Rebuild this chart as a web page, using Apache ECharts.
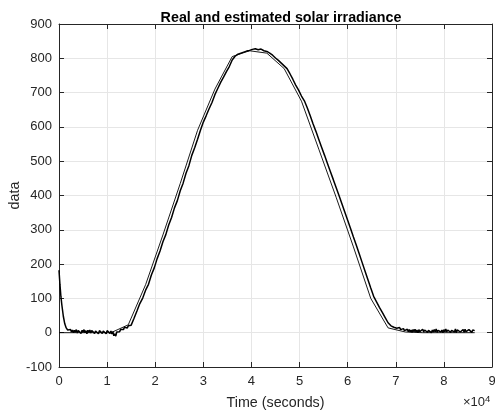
<!DOCTYPE html>
<html>
<head>
<meta charset="utf-8">
<script src="https://cdn.jsdelivr.net/npm/echarts@6/dist/echarts.min.js"></script>
<style>
html,body{margin:0;padding:0;background:#fff;}
#chart{width:495px;height:416px;}
</style>
</head>
<body>
<div id="chart"></div>
<script>
// Estimated irradiance (hourly samples, seconds)
var estTime = [0,3600,7200,10800,14400,18000,21600,25200,28800,32400,36000,39600,43200,46800,50400,54000,57600,61200,64800,68400,72000,75600,79200,82800,86400];
var estValue = [0,0,0,0,23,140,285,435,590,710,805,822,815,770,675,535,395,250,100,14,2,0,0,0,0];

// Real (measured) irradiance, seconds
var realTime = [
0,200,400,600,900,1200,1500,1800,
2400,2600,2800,3000,3200,3400,3600,3800,4000,4200,
4400,4600,4800,5000,5200,5400,5600,5800,6000,6200,
6400,6600,6800,7000,7200,7400,7600,7800,8000,8200,
8400,8600,8800,9000,9200,9400,9600,9800,10000,10200,
10400,10600,10800,11000,11200,11400,11600,11800,12000,12200,
12400,12600,12800,13000,13200,13400,13600,13800,14000,14200,
14400,
15000,15600,16200,16800,17400,18000,18600,19200,19800,20400,
21000,21600,22200,22800,23400,24000,24600,25200,25800,26400,
27000,27600,28200,28800,29400,30000,30600,31200,31800,32400,
33000,33600,34200,34800,35400,36000,36600,37200,37800,38400,
39000,39600,40200,40800,41400,42000,42600,43200,43800,44400,
45000,45600,46200,46800,47400,48000,48600,49200,49800,50400,
51000,51600,52200,52800,53400,54000,54600,55200,55800,56400,
57000,57600,58200,58800,59400,60000,60600,61200,61800,62400,
63000,63600,64200,64800,65400,66000,66600,67200,67800,68400,
69000,69600,
70000,70200,70400,70600,70800,71000,71200,71400,71600,71800,
72000,72200,72400,72600,72800,73000,73200,73400,73600,73800,
74000,74200,74400,74600,74800,75000,75200,75400,75600,75800,
76000,76200,76400,76600,76800,77000,77200,77400,77600,77800,
78000,78200,78400,78600,78800,79000,79200,79400,79600,79800,
80000,80200,80400,80600,80800,81000,81200,81400,81600,81800,
82000,82200,82400,82600,82800,83000,83200,83400,83600,83800,
84000,84200,84400,84600,84800,85000,85200,85400,85600,85800,
86000,86200,86400
];
var realValue = [
182,140,105,80,48,26,14,8,
9,2,8,0,7,1,9,-1,6,2,
8,-2,7,1,9,0,6,-3,7,1,
8,-1,6,2,9,-2,5,0,7,-3,
6,1,8,-2,5,0,7,-3,6,1,
8,-2,5,-4,3,-9,-3,-10,2,-2,
6,3,9,6,12,9,16,12,19,14,
20,
22,42,63,85,101,124,141,168,189,216,
238,265,286,314,336,364,385,414,436,465,
487,517,539,564,590,614,633,653,671,694,
712,730,745,761,776,795,806,812,815,818,
821,823,826,828,825,827,822,820,815,809,
801,794,786,778,770,755,739,722,707,690,
676,656,633,609,587,563,540,517,493,470,
447,423,400,376,352,328,304,279,255,230,
205,180,155,130,106,90,74,59,44,29,
20,16,
19,13,17,10,15,9,14,7,12,6,
11,4,10,3,9,2,8,1,9,3,
10,2,8,0,9,3,7,1,10,2,
8,3,11,1,7,4,10,0,8,2,
9,3,11,1,7,4,10,2,8,0,
9,3,11,2,8,4,10,1,7,3,
9,2,11,0,8,4,10,2,7,3,
9,1,10,3,8,2,9,4,10,1,
8,3,6
];

var xTicks = [0,1,2,3,4,5,6,7,8,9];

function pairs(t, v) {
  var out = [];
  for (var i = 0; i < t.length; i++) out.push([t[i], v[i]]);
  return out;
}

var FONT = 'Liberation Sans, Arial, Helvetica, sans-serif';
var AX = '#262626';
var GRID = '#e6e6e6';

var chart = echarts.init(document.getElementById('chart'), null, {renderer: 'canvas'});
chart.setOption({
  animation: false,
  backgroundColor: '#fff',
  textStyle: {fontFamily: FONT},
  title: {
    text: 'Real and estimated solar irradiance',
    left: 276, top: 6, textAlign: 'center',
    textStyle: {fontFamily: FONT, fontSize: 14.3, fontWeight: 'bold', color: '#000'}
  },
  grid: {left: 59, right: 3, top: 24, bottom: 49, containLabel: false, outerBoundsMode: 'none'},
  xAxis: [{
    type: 'value', position: 'bottom', min: 0, max: 90000, interval: 10000,
    axisLine: {show: true, onZero: false, lineStyle: {color: AX, width: 1}},
    axisTick: {show: true, inside: true, length: 5, lineStyle: {color: AX}},
    axisLabel: {color: AX, fontSize: 13, fontFamily: FONT, margin: 8,
      formatter: function (v) { return String(xTicks[Math.round(v / 10000)]); }},
    splitLine: {show: true, lineStyle: {color: GRID, width: 1}},
    name: 'Time (seconds)', nameLocation: 'middle', nameGap: 29, nameMoveOverlap: false,
    nameTextStyle: {color: AX, fontSize: 14.3, fontFamily: FONT}
  }, {
    type: 'value', position: 'top', min: 0, max: 90000, interval: 10000,
    axisLine: {show: true, onZero: false, lineStyle: {color: AX, width: 1}},
    axisTick: {show: true, inside: true, length: 5, lineStyle: {color: AX}},
    axisLabel: {show: false}, splitLine: {show: false}
  }],
  yAxis: [{
    type: 'value', position: 'left', min: -100, max: 900, interval: 100,
    axisLine: {show: true, onZero: false, lineStyle: {color: AX, width: 1}},
    axisTick: {show: true, inside: true, length: 5, lineStyle: {color: AX}},
    axisLabel: {color: AX, fontSize: 13, fontFamily: FONT, margin: 7},
    splitLine: {show: true, lineStyle: {color: GRID, width: 1}},
    name: 'data', nameLocation: 'middle', nameGap: 37, nameMoveOverlap: false,
    nameTextStyle: {color: AX, fontSize: 14.3, fontFamily: FONT}
  }, {
    type: 'value', position: 'right', min: -100, max: 900, interval: 100,
    axisLine: {show: true, onZero: false, lineStyle: {color: AX, width: 1}},
    axisTick: {show: true, inside: true, length: 5, lineStyle: {color: AX}},
    axisLabel: {show: false}, splitLine: {show: false}
  }],
  graphic: [{
    type: 'text', left: 463, top: 394,
    style: {
      text: '×10{s|4}',
      fontFamily: FONT, fontSize: 13, fill: AX,
      rich: {s: {fontSize: 9.5, fontFamily: FONT, fill: AX, verticalAlign: 'top', padding: [0, 0, 7, 0]}}
    }
  }],
  series: [{
    name: 'estimated', type: 'line', xAxisIndex: 0, yAxisIndex: 0,
    data: pairs(estTime, estValue), showSymbol: false, symbol: 'none',
    lineStyle: {color: '#000', width: 0.9}, z: 2
  }, {
    name: 'real', type: 'line', xAxisIndex: 0, yAxisIndex: 0,
    data: pairs(realTime, realValue), showSymbol: false, symbol: 'none',
    lineStyle: {color: '#000', width: 1.5}, z: 3
  }]
});
</script>
</body>
</html>
